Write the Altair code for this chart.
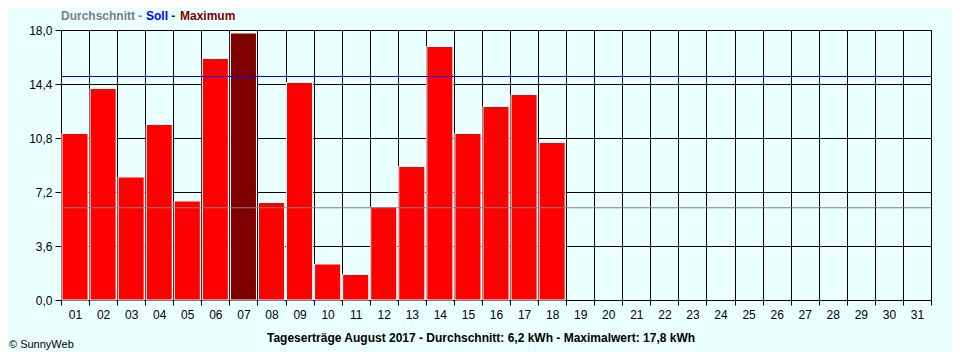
import altair as alt
import pandas as pd

# ---- data ----
days = [f"{d:02d}" for d in range(1, 32)]
yield_days = days[:18]
yields = [11.1, 14.1, 8.2, 11.7, 6.6, 16.1, 17.8, 6.5, 14.5, 2.4, 1.7, 6.2, 8.9, 16.9, 11.1, 12.9, 13.7, 10.5]
soll_value = 14.9
average_value = 6.15
y_ticks = [0.0, 3.6, 7.2, 10.8, 14.4, 18.0]
legend_parts = ["Durchschnitt -", "Soll -", "Maximum"]
legend_colors = ["#808080", "#0000ff", "#800000"]
bottom_title = "Tageserträge August 2017 - Durchschnitt: 6,2 kWh - Maximalwert: 17,8 kWh"
credit = "© SunnyWeb"

BG = "#eaffff"
FONT = "Liberation Sans"

df = pd.DataFrame({"day": yield_days, "value": yields})
df["is_max"] = df["value"] == df["value"].max()

x_enc = alt.X(
    "day:O",
    scale=alt.Scale(domain=days, paddingInner=0, paddingOuter=0),
    axis=alt.Axis(
        title=None, labelAngle=0, tickBand="extent", grid=True,
        gridColor="black", gridOpacity=1, gridWidth=1,
        tickColor="black", tickSize=5, tickWidth=1,
        domainColor="black", labelFont=FONT, labelFontSize=12,
        labelColor="black", labelPadding=4,
    ),
)
y_scale = alt.Scale(domain=[0, 18], nice=False, zero=True)
y_axis = alt.Axis(
    title=None, values=y_ticks, grid=True, gridColor="black", gridOpacity=1,
    gridWidth=1, tickColor="black", tickSize=6, domainColor="black",
    labelFont=FONT, labelFontSize=12, labelColor="black", labelPadding=3,
    labelExpr="replace(format(datum.value, '.1f'), '.', ',')",
)

bars = alt.Chart(df).mark_bar(
    stroke="white", strokeWidth=1, width=alt.RelativeBandSize(0.93)
).encode(
    x=x_enc,
    y=alt.Y("value:Q", scale=y_scale, axis=y_axis),
    color=alt.condition("datum.is_max", alt.value("#800000"), alt.value("#ff0000")),
)

avg_rule = alt.Chart(pd.DataFrame({"v": [average_value]})).mark_rule(
    color="#808080", strokeWidth=1
).encode(y=alt.Y("v:Q", scale=y_scale))

soll_rule = alt.Chart(pd.DataFrame({"v": [soll_value]})).mark_rule(
    color="#0000ff", strokeWidth=1
).encode(y=alt.Y("v:Q", scale=y_scale))

legend_x = [0, 85, 119]
legend_layers = []
for txt, col, xp in zip(legend_parts, legend_colors, legend_x):
    legend_layers.append(
        alt.Chart(pd.DataFrame({"t": [txt]})).mark_text(
            align="left", baseline="alphabetic", font=FONT, fontSize=12,
            fontWeight="bold", color=col,
        ).encode(text="t:N", x=alt.value(xp), y=alt.value(-10))
    )

title_layer = alt.Chart(pd.DataFrame({"t": [bottom_title]})).mark_text(
    align="center", baseline="alphabetic", font=FONT, fontSize=12,
    fontWeight="bold", color="black",
).encode(text="t:N", x=alt.value(420), y=alt.value(312))

credit_layer = alt.Chart(pd.DataFrame({"t": [credit]})).mark_text(
    align="left", baseline="alphabetic", font=FONT, fontSize=11, color="black",
).encode(text="t:N", x=alt.value(-52), y=alt.value(318))

chart = alt.layer(
    bars, avg_rule, soll_rule, *legend_layers, title_layer, credit_layer
).properties(
    width=870, height=270,
    autosize=alt.AutoSizeParams(type="none"),
    padding={"left": 53, "top": 22, "right": 21, "bottom": 52},
    background=BG,
).configure_view(stroke="black", strokeWidth=1, fill=BG)

chart.save("out.html", embed_options={"renderer": "svg", "actions": False})
